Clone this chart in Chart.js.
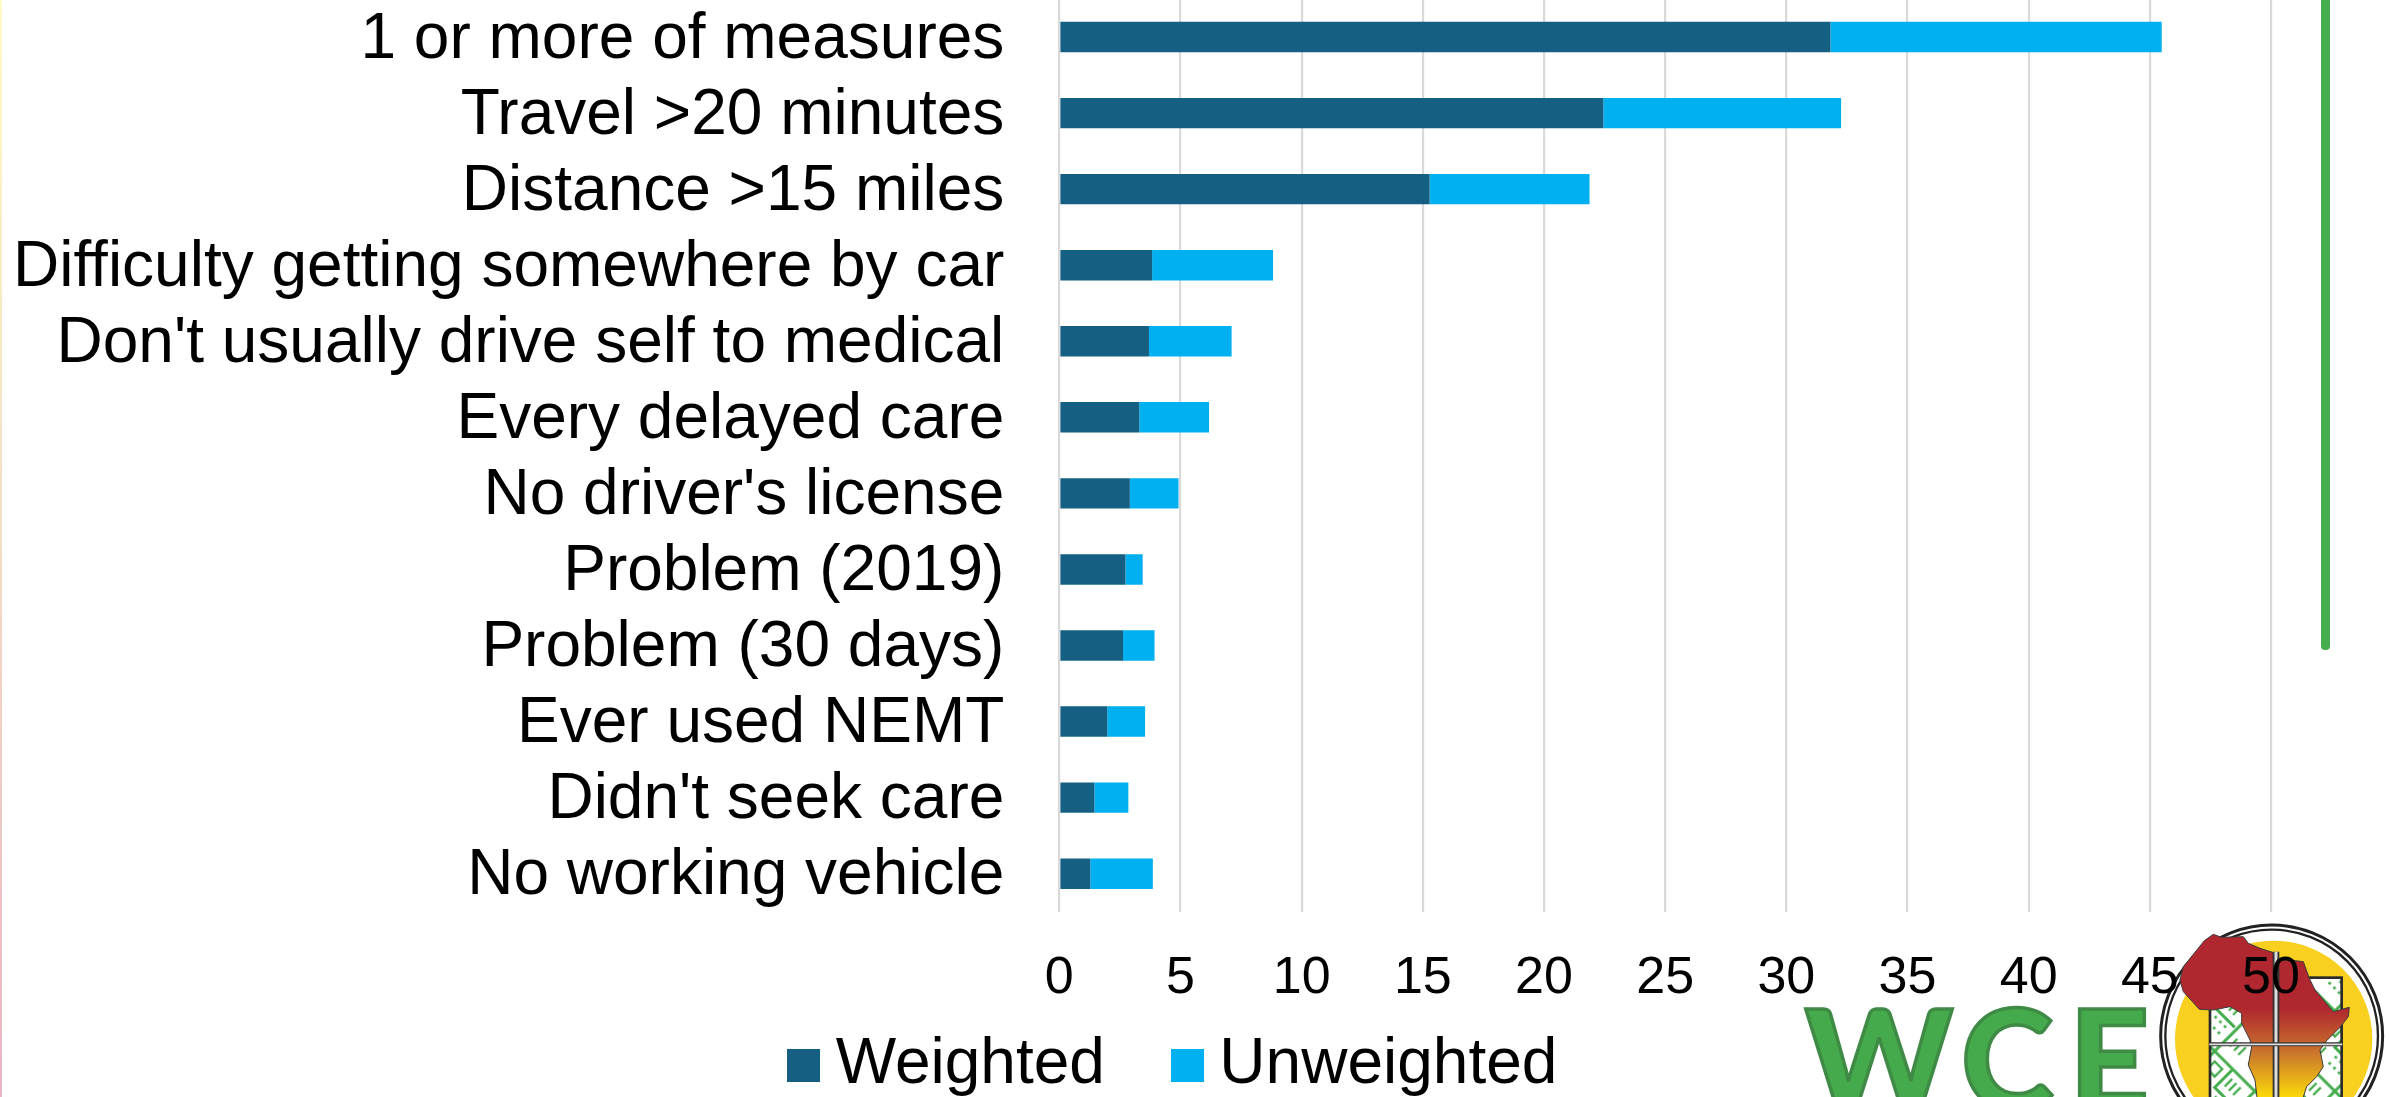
<!DOCTYPE html>
<html>
<head>
<meta charset="utf-8">
<title>Transportation measures</title>
<script src="https://cdn.jsdelivr.net/npm/chart.js@4"></script>
<style>
html,body{margin:0;padding:0;width:2391px;height:1097px;overflow:hidden;background:#fff}
#edge{position:absolute;left:0;top:0;width:2px;height:1097px;background:linear-gradient(#fffbc4,#f3dcc4 50%,#e8b4c4)}
#logo{position:absolute;left:0;top:0;width:2391px;height:1097px}
#rule{position:absolute;left:2321px;top:-10px;width:9px;height:659.5px;background:#46ad4e;border-radius:0 0 4px 4px}
canvas{position:absolute;left:0;top:-1px}
</style>
</head>
<body>
<div id="edge"></div>
<div id="rule"></div>
<svg id="logo" viewBox="0 0 2391 1097" xmlns="http://www.w3.org/2000/svg">
  <defs>
    <linearGradient id="afr" gradientUnits="userSpaceOnUse" x1="0" y1="295" x2="0" y2="560">
      <stop offset="0" stop-color="#b0272f"/><stop offset="0.5" stop-color="#c9752c"/><stop offset="1" stop-color="#fbd80a"/>
    </linearGradient>
    <pattern id="kente" patternUnits="userSpaceOnUse" width="170" height="170" patternTransform="rotate(45 180 200)">
      <rect width="170" height="170" fill="#fff"/>
      <path d="M0 8H170M8 0V170M85 8V85H170" stroke="#46ad4e" stroke-width="9" fill="none"/>
      <path d="M30 30H62V62H30Z" fill="none" stroke="#46ad4e" stroke-width="7"/>
      <path d="M104 30V62M122 30V62M140 30V62M30 104V136M48 104V136M66 104V136" stroke="#46ad4e" stroke-width="7"/>
      <path d="M104 104h8M124 104h8M144 104h8M104 130h8M124 130h8M144 130h8" stroke="#46ad4e" stroke-width="8"/>
    </pattern>
  </defs>
  <g font-family="Lato" font-weight="900" font-size="140" fill="#45aa4b" stroke="#3f8a45" stroke-width="3.5" stroke-linejoin="miter">
    <text x="1805" y="1110">W</text>
    <text x="1961" y="1110">C</text>
    <text x="2069" y="1110">E</text>
  </g>
  <g transform="translate(2150 910) scale(0.3333)">
    <circle cx="365" cy="378" r="333" fill="#fff" stroke="#222" stroke-width="9"/>
    <circle cx="365" cy="378" r="319" fill="none" stroke="#222" stroke-width="7"/>
    <circle cx="371" cy="388" r="296" fill="#f9cf20"/>
    <rect x="180" y="203" width="395" height="420" fill="url(#kente)" stroke="#2a2a2a" stroke-width="8"/>
    <path d="M163 92 190 73 215 82 280 80 295 100 330 115 368 127 388 150 435 152 460 155 478 205 495 240 550 305 598 292 595 320 570 352 530 392 510 420 520 470 500 500 470 530 460 561 455 640 330 640 315 510 295 465 305 410 300 390 275 340 275 310 240 290 190 300 148 298 100 245 90 210 100 170Z" fill="url(#afr)" stroke="#3a3a3a" stroke-width="3"/>
    <path d="M378 125V640" stroke="#333" stroke-width="20"/>
    <path d="M378 125V640" stroke="#ddd" stroke-width="9"/>
    <path d="M178 403H577" stroke="#333" stroke-width="12"/>
    <path d="M178 403H577" stroke="#ddd" stroke-width="5"/>
  </g>
</svg>
<canvas id="chart" width="2391" height="1098"></canvas>
<script>
const categories = ["1 or more of measures","Travel >20 minutes","Distance >15 miles","Difficulty getting somewhere by car","Don't usually drive self to medical","Every delayed care","No driver's license","Problem (2019)","Problem (30 days)","Ever used NEMT","Didn't seek care","No working vehicle"];
const weighted = [31.82,22.45,15.28,3.83,3.70,3.30,2.91,2.73,2.63,1.98,1.45,1.28];
const unweighted = [13.67,9.81,6.60,4.99,3.41,2.88,2.01,0.71,1.30,1.56,1.40,2.58];
const xTicks = [0,5,10,15,20,25,30,35,40,45,50];
const seriesNames = ['Weighted','Unweighted'];
const seriesColors = ['#156082','#00b0f0'];

const FONT = "'Liberation Sans', Arial, sans-serif";

function swatch(color){
  const c = document.createElement('canvas');
  c.width = 33; c.height = 33;
  const g = c.getContext('2d');
  g.fillStyle = color; g.fillRect(0,0,33,33);
  return c;
}
// Places the library's own legend below the axis, left of centre as in the reference.
const legendPlacement = {
  id: 'legendPlacement',
  beforeDraw(chart){
    const l = chart.legend, dx = 45;
    if (!l._placed){ l.left += dx; l.right += dx; l._placed = true; }
    l.top = 1065.5 - 38.4 - 83 + 7.5;
    l.bottom = chart.height;
  }
};

new Chart(document.getElementById('chart'), {
  type: 'bar',
  plugins: [legendPlacement],
  data: {
    labels: categories,
    datasets: [
      {label: seriesNames[0], data: weighted, backgroundColor: seriesColors[0], barPercentage: 1, categoryPercentage: 0.4},
      {label: seriesNames[1], data: unweighted, backgroundColor: seriesColors[1], barPercentage: 1, categoryPercentage: 0.4}
    ]
  },
  options: {
    indexAxis: 'y',
    responsive: false,
    animation: false,
    layout: {padding: {left: 0, right: 120, top: 0, bottom: 0}},
    plugins: {
      tooltip: {enabled: false},
      legend: {
        position: 'bottom',
        maxHeight: 1,
        labels: {
          color: '#000',
          font: {family: FONT, size: 64},
          usePointStyle: true,
          pointStyleWidth: 0.01,
          padding: 82.5,
          generateLabels(chart){
            return chart.data.datasets.map((d,i) => ({
              text: d.label, fillStyle: d.backgroundColor, strokeStyle: d.backgroundColor,
              lineWidth: 0, pointStyle: swatch(d.backgroundColor), datasetIndex: i, hidden: false
            }));
          }
        }
      }
    },
    scales: {
      x: {
        stacked: true,
        min: 0, max: 50,
        afterBuildTicks(s){ s.ticks = xTicks.map(v => ({value: v})); },
        afterFit(s){ s.height = 184.3; },
        grid: {color: '#d9d9d9', lineWidth: 2.2, drawTicks: false},
        border: {display: false},
        ticks: {color: '#000', font: {family: FONT, size: 52}, padding: 35.5, maxRotation: 0, autoSkip: false}
      },
      y: {
        stacked: true,
        afterFit(s){ s.width = 1059.3; s.paddingTop = 0; s.paddingBottom = 0; },
        grid: {display: false, drawTicks: false},
        border: {display: false},
        ticks: {color: '#000', font: {family: FONT, size: 64}, padding: 55, labelOffset: 3, autoSkip: false}
      }
    }
  }
});
</script>
</body>
</html>
